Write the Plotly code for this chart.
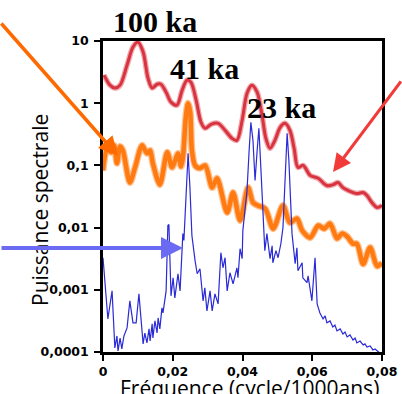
import plotly.graph_objects as go

# ---- data (frequency in cycles/1000 yr, spectral power) ----
red_f = [0.0003, 0.0020, 0.0034, 0.0049, 0.0069, 0.0086, 0.0100, 0.0115, 0.0129, 0.0141,
         0.0155, 0.0166, 0.0181, 0.0195, 0.0212, 0.0227, 0.0241, 0.0252, 0.0267, 0.0281,
         0.0293, 0.0310, 0.0330, 0.0350, 0.0370, 0.0384, 0.0399, 0.0413, 0.0427, 0.0442,
         0.0456, 0.0467, 0.0479, 0.0493, 0.0508, 0.0522, 0.0536, 0.0548, 0.0559, 0.0574,
         0.0594, 0.0617, 0.0642, 0.0660, 0.0674, 0.0688, 0.0703, 0.0728, 0.0746, 0.0757,
         0.0771, 0.0786, 0.0800]
red_p = [2.83, 1.95, 1.75, 1.95, 4.1, 8.0, 9.6, 6.65, 2.53, 1.75,
         2.02, 2.02, 1.5, 1.04, 0.93, 1.62, 2.35, 2.18, 1.12, 0.494,
         0.395, 0.458, 0.475, 0.367, 0.272, 0.253, 0.532, 1.45, 1.95, 1.5,
         0.64, 0.272, 0.188, 0.253, 0.41, 0.475, 0.367, 0.188, 0.093, 0.10,
         0.069, 0.062, 0.0475, 0.049, 0.053, 0.044, 0.0395, 0.0353, 0.0367, 0.0328,
         0.0253, 0.021, 0.0226]

orange_f = [0.0000, 0.0012, 0.0023, 0.0032, 0.0040, 0.0049, 0.0057, 0.0077, 0.0092, 0.0112,
            0.0126, 0.0135, 0.0143, 0.0163, 0.0184, 0.0198, 0.0207, 0.0215, 0.0224, 0.0229,
            0.0238, 0.0244, 0.0250, 0.0255, 0.0264, 0.0278, 0.0293, 0.0313, 0.0327, 0.0356,
            0.0373, 0.0393, 0.0416, 0.0430, 0.0444, 0.0465, 0.0488, 0.0516, 0.0536, 0.0556,
            0.0571, 0.0594, 0.0617, 0.0634, 0.0651, 0.0671, 0.0685, 0.0700, 0.0717, 0.0728,
            0.0746, 0.0766, 0.0786, 0.0800]
orange_p = [0.083, 0.188, 0.162, 0.210, 0.108, 0.202, 0.174, 0.053, 0.093, 0.210,
            0.156, 0.174, 0.108, 0.049, 0.162, 0.093, 0.120, 0.156, 0.096, 0.130,
            0.64, 1.0, 0.72, 0.174, 0.100, 0.090, 0.100, 0.044, 0.062, 0.0175,
            0.0367, 0.013, 0.044, 0.0253, 0.0226, 0.0202, 0.0096, 0.0226, 0.0120, 0.0140,
            0.0090, 0.0069, 0.0108, 0.0096, 0.0116, 0.0067, 0.0080, 0.0072, 0.0055, 0.0055,
            0.0026, 0.0048, 0.0024, 0.0027]

blue_f = [0.0000, 0.0014, 0.0026, 0.0034, 0.0040, 0.0043, 0.0049, 0.0054, 0.0060, 0.0069,
          0.0077, 0.0086, 0.0095, 0.0103, 0.0115, 0.0120, 0.0126, 0.0132, 0.0135, 0.0141,
          0.0143, 0.0149, 0.0155, 0.0158, 0.0163, 0.0169, 0.0172, 0.0181, 0.0186, 0.0189,
          0.0195, 0.0201, 0.0206, 0.0215, 0.0221, 0.0227, 0.0229, 0.0232, 0.0238, 0.0244,
          0.0249, 0.0255, 0.0264, 0.0270, 0.0278, 0.0287, 0.0292, 0.0298, 0.0307, 0.0313,
          0.0321, 0.0330, 0.0338, 0.0344, 0.0350, 0.0356, 0.0364, 0.0373, 0.0384, 0.0387,
          0.0393, 0.0399, 0.0401, 0.0413, 0.0419, 0.0424, 0.0430, 0.0436, 0.0442, 0.0447,
          0.0453, 0.0459, 0.0464, 0.0470, 0.0479, 0.0485, 0.0487, 0.0496, 0.0502, 0.0510,
          0.0516, 0.0522, 0.0528, 0.0533, 0.0542, 0.0551, 0.0556, 0.0559, 0.0571, 0.0573,
          0.0585, 0.0588, 0.0594, 0.0599, 0.0608, 0.0614, 0.0622, 0.0631, 0.0637, 0.0642,
          0.0651, 0.0659, 0.0665, 0.0671, 0.0680, 0.0688, 0.0694, 0.0700, 0.0708, 0.0717,
          0.0723, 0.0728, 0.0737, 0.0746, 0.0751, 0.0757, 0.0766, 0.0774, 0.0780, 0.0789,
          0.0794]
blue_p = [0.00328, 0.00034, 0.00096, 0.000116, 0.000181, 0.000104, 0.000168, 0.000112, 0.000181, 0.000244,
          0.000665, 0.000294, 0.000294, 0.00086, 0.000135, 0.000202, 0.00014, 0.000235, 0.00015, 0.000283,
          0.000168, 0.000316, 0.000202, 0.000353, 0.000235, 0.000513, 0.000425, 0.00096, 0.0108, 0.0112,
          0.0008, 0.00156, 0.00074, 0.00181, 0.00096, 0.0051, 0.008, 0.0062, 0.0395, 0.156,
          0.0475, 0.0074, 0.00294, 0.00181, 0.00218, 0.000665, 0.00108, 0.000458, 0.00096, 0.000458,
          0.00086, 0.000594, 0.00395, 0.00226, 0.00328, 0.00096, 0.00188, 0.00125, 0.00226, 0.00156,
          0.00458, 0.00316, 0.00895, 0.0395, 0.174, 0.494, 0.253, 0.0573, 0.174, 0.395,
          0.083, 0.0168, 0.00426, 0.008, 0.00316, 0.0051, 0.00272, 0.00426, 0.00328, 0.0055,
          0.01, 0.0573, 0.328, 0.12, 0.008, 0.00262, 0.00475, 0.00202, 0.00272, 0.00156,
          0.0013, 0.00168, 0.00104, 0.000665, 0.00328, 0.000594, 0.000425, 0.00034, 0.00038, 0.000294,
          0.000316, 0.000253, 0.000272, 0.000218, 0.000235, 0.000195, 0.00021, 0.000175, 0.000188, 0.000156,
          0.000168, 0.00014, 0.00015, 0.00013, 0.000135, 0.00012, 0.000125, 0.000108, 0.000112, 0.0001,
          0.000096]

x_ticks = [0, 0.02, 0.04, 0.06, 0.08]
x_ticktext = ["0", "0,02", "0,04", "0,06", "0,08"]
y_ticks = [0.0001, 0.001, 0.01, 0.1, 1, 10]
y_ticktext = ["0,0001", "0,001", "0,01", "0,1", "1", "10"]

period_labels = ["100 ka", "41 ka", "23 ka"]

# ---- figure ----
W, H = 402, 394
ML, MR, MT, MB = 103, 20, 41, 42
PW, PH = W - ML - MR, H - MT - MB


def px(x):
    return (x - ML) / PW


def py(y):
    return 1 - (y - MT) / PH


fig = go.Figure()
fig.add_trace(go.Scatter(x=red_f, y=red_p, mode="lines",
                         line=dict(color="rgba(220,60,70,0.45)", width=5.5, shape="spline", smoothing=0.9),
                         hoverinfo="skip"))
fig.add_trace(go.Scatter(x=red_f, y=red_p, mode="lines",
                         line=dict(color="#d8333f", width=3, shape="spline", smoothing=0.9)))
fig.add_trace(go.Scatter(x=orange_f, y=orange_p, mode="lines",
                         line=dict(color="rgba(255,130,30,0.5)", width=7, shape="spline", smoothing=0.8),
                         hoverinfo="skip"))
fig.add_trace(go.Scatter(x=orange_f, y=orange_p, mode="lines",
                         line=dict(color="#ff7a10", width=4.5, shape="spline", smoothing=0.8)))
fig.add_trace(go.Scatter(x=blue_f, y=blue_p, mode="lines",
                         line=dict(color="#2a2ad6", width=1.2)))

axis_common = dict(showline=True, linecolor="black", linewidth=2.5, mirror=True,
                   ticks="outside", ticklen=6, tickwidth=2, tickcolor="black",
                   showgrid=False, zeroline=False, automargin=False,
                   tickfont=dict(family="DejaVu Sans", size=12.5, color="black", weight="bold"))

fig.update_xaxes(range=[0, 0.08], tickvals=x_ticks, ticktext=x_ticktext, **axis_common)
fig.update_yaxes(type="log", range=[-4, 1], tickvals=y_ticks, ticktext=y_ticktext,
                 ticklabelstandoff=3, **axis_common)

annotations = []
label_pos = [(155, 22), (204, 68), (281, 107)]
for txt, (lx, ly) in zip(period_labels, label_pos):
    annotations.append(dict(x=px(lx), y=py(ly), xref="paper", yref="paper", text=txt,
                            showarrow=False, xanchor="center", yanchor="middle",
                            font=dict(family="Liberation Serif", size=30, color="black", weight="bold")))

# axis titles
annotations.append(dict(x=px(40), y=py(210), xref="paper", yref="paper", text="Puissance spectrale",
                        showarrow=False, textangle=-90, xanchor="center", yanchor="middle",
                        font=dict(family="Open Sans", size=21, color="black")))
annotations.append(dict(x=px(249), y=py(388), xref="paper", yref="paper",
                        text="Fréquence (cycle/1000ans)", showarrow=False,
                        xanchor="center", yanchor="middle",
                        font=dict(family="Open Sans", size=21, color="black")))

# arrows (head, tail offset in pixels)
arrows = [
    ((118, 156), (0, 22), "#ff6a00", 3.5, 1.1),
    ((333, 172), (402, 80), "#f23a3a", 3, 1.2),
    ((183, 248), (0, 248), "#6a6af2", 4, 1.1),
]
for (hx, hy), (tx, ty), col, wdt, sz in arrows:
    annotations.append(dict(x=px(hx), y=py(hy), xref="paper", yref="paper", text="",
                            showarrow=True, ax=tx - hx, ay=ty - hy, arrowcolor=col,
                            arrowwidth=wdt, arrowhead=2, arrowsize=sz, standoff=0))

fig.update_layout(width=W, height=H, margin=dict(l=ML, r=MR, t=MT, b=MB),
                  plot_bgcolor="white", paper_bgcolor="white", showlegend=False,
                  annotations=annotations)

fig.write_html("out.html")
